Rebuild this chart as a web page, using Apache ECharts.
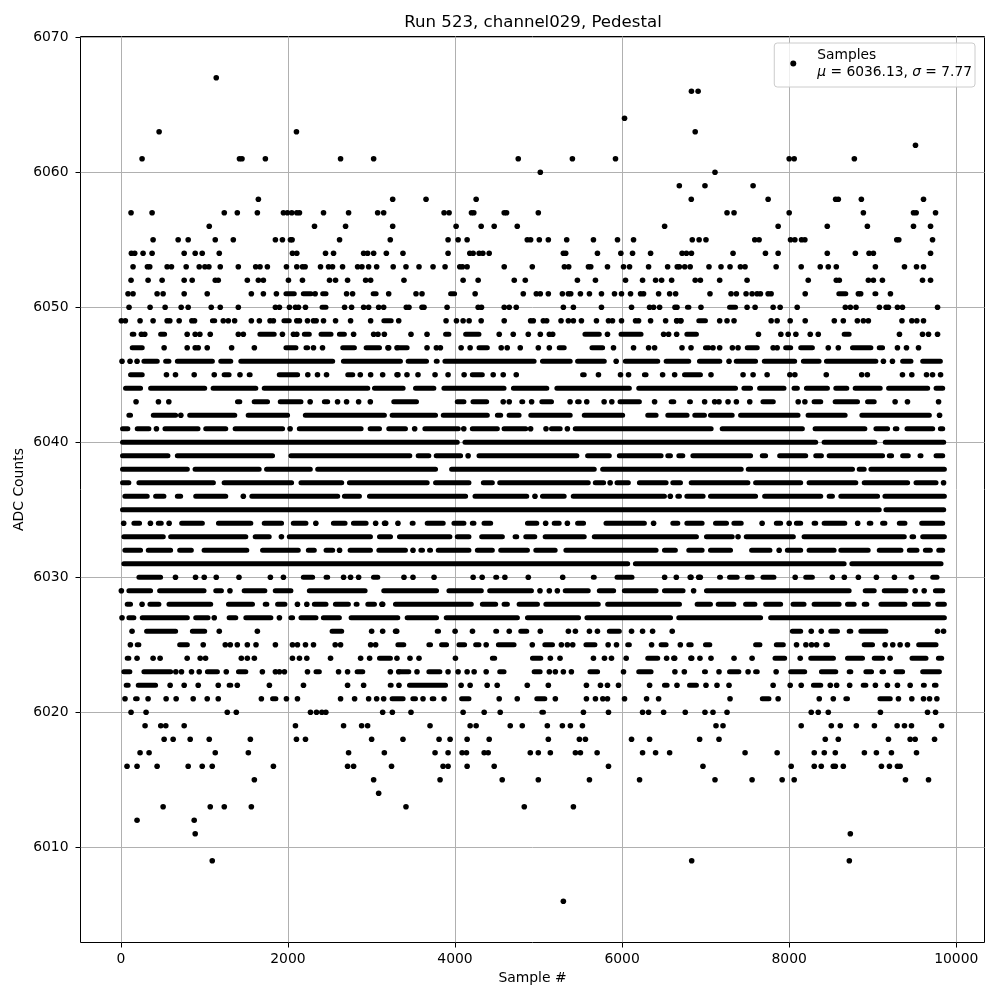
<!DOCTYPE html>
<html><head><meta charset="utf-8">
<style>html,body{margin:0;padding:0;background:#fff}#c{width:1000px;height:1000px}</style>
<script src="https://cdn.jsdelivr.net/npm/echarts@6/dist/echarts.min.js"></script>
</head><body><div id="c"></div>
<script>
// Sample positions, one list per ADC value.
// A number is one visible sample. [a,b] is a stretch where the samples overlap so
// heavily that single ones cannot be told apart: it is drawn as a merged band,
// it does not claim individual sample values.
const titleText = 'Run 523, channel029, Pedestal';
const xLabel = 'Sample #';
const yLabel = 'ADC Counts';
const xTicks = [0,2000,4000,6000,8000,10000];
const yTicks = [6010,6020,6030,6040,6050,6060,6070];
const seriesName = 'Samples';
const meanValue = '6036.13';
const sigmaValue = '7.77';

const y6067=[1142];
const y6066=[6830,6910];
const y6064=[6029];
const y6063=[458,2102,6875];
const y6062=[9512];
const y6061=[254,1420,1450,1730,2630,3026,4757,5405,5921,8000,8060,8780];
const y6060=[5021,7112];
const y6059=[6685,6992,7568];
const y6058=[1646,3254,3653,4253,6828,7748,8556,8588,8864,9608];
const y6057=[122,374,1238,1394,1634,1946,1994,2046,2106,2138,2426,2726,3074,3146,3869,3929,4197,4225,4589,4617,4997,7256,7340,8000,8888,9488,9520,9752];
const y6056=[1058,2318,2690,3254,4013,4313,4469,4745,6509,7868,8456,8936,9488,9692];
const y6055=[386,686,806,1130,1346,1850,1934,2030,2050,2618,3225,3917,4037,4145,4865,4905,5009,5117,5337,5657,5945,6137,6840,6922,7004,7588,7640,8016,8068,8148,8188,9288,9312,9716];
const y6054=[126,166,266,374,758,890,974,1178,2054,2106,2450,2546,2906,2954,3026,3178,3377,3917,4177,4217,4289,4333,4409,5297,5325,5705,5985,6125,6341,6718,6770,6830,7328,7716,7868,8456,8792,8956,9008,9692];
const y6053=[146,318,346,554,606,782,938,1006,1054,1190,1406,1614,1666,1754,1982,2106,2174,2206,2390,2486,2534,2654,2834,2886,2966,3062,3260,3413,3569,3737,3881,4057,4089,4145,4589,4925,5309,5361,5597,5625,5825,6017,6089,6317,6545,6660,6685,6750,6815,7040,7184,7292,7416,7472,7844,8144,8372,8468,8564,9032,9380,9524,9608];
const y6052=[122,326,494,758,854,1130,1166,1514,1646,1706,2006,2174,2498,2570,2714,2930,2990,3389,4097,4277,4709,4841,5465,5681,6041,6245,6401,6473,6593,6875,6937,7168,7496,8228,8564,8600,8948,9008,9116,9596,9692];
const y6051=[86,146,434,506,758,1034,1562,1706,1862,[1946,2106],[2154,2306],2326,[2386,2486],2702,2774,[2990,3086],3206,3533,3605,[3917,4025],[4057,4121],4241,4817,4973,5021,5117,5285,5357,5385,5501,5609,5753,5909,5993,6101,6221,6257,6437,6569,6641,[6713,6777],7052,7304,7368,7484,7556,7616,7656,7748,7784,8192,[8564,8708],8828,8856,[8996,9068],9212];
const y6050=[98,350,530,722,806,1082,1190,1406,1850,1898,2018,2090,2126,2210,[2378,2486],[2546,2594],2678,2762,2906,2966,3086,3146,3417,3449,3605,3629,3905,4277,4317,4589,4649,4733,5297,5417,5753,6113,6329,6377,6449,6633,6657,[6752,6830],6944,[7256,7388],7496,7592,7808,7892,8096,8672,8732,8800,9080,9160,9188,9296,9356,9776];
const y6049=[6,54,230,386,554,586,698,850,882,[1066,1154],1226,1286,1362,1562,1658,1786,1826,[1922,2046],2106,2138,2234,2306,2338,2426,2570,2750,2990,[3118,3266],3326,3893,4017,4097,4169,4313,4589,[4781,4841],4905,4937,5057,5097,5269,5357,5417,5513,5693,5837,5885,5993,6161,6197,6341,6521,6653,6701,6656,6704,[6888,7028],7168,7256,7340,7784,7856,8012,8192,8540,8648,8816,8888,8948,9350,9468,9528,9608];
const y6048=[[106,186],246,286,[446,554],794,890,946,1070,[1274,1326],1406,1466,[1634,1866],1934,2066,2106,[2166,2286],[2366,2546],[2586,2706],2786,3026,3078,3154,3473,3665,[3857,3957],[4097,4317],4529,4697,4877,5021,5129,5169,[5525,5757],5825,[5957,6257],6497,6557,6653,[6745,6920],7632,7900,7988,8080,8252,8348,[8628,8748],9320,9596,9668,9776];
const y6047=[[106,286],518,794,890,926,1034,1326,1598,[1826,1886],[1946,2126],[2186,2266],2306,2414,[2626,2826],[2906,3126],3206,3306,3197,[3297,3457],3665,3777,3825,4073,4181,[4257,4417],4553,4625,4781,4997,5129,[5217,5337],[5609,5797],5897,6137,6317,6389,6717,6825,[6968,7068],7088,7168,7320,7388,[7468,7648],7808,7856,[7928,8048],[8108,8308],8468,8588,[8728,9008],[9048,9148],9296,9404,9548];
const y6046=[14,110,194,[246,466],[506,606],[646,1126],[1166,1346],[1406,2566],[2634,3377],[3409,3689],[3745,3817],[3849,4977],[5017,5409],[5437,5817],5929,[6009,6457],[6497,6828],[6896,7200],7280,[7336,7628],[7672,8096],[8140,8388],[8416,9068],9128,9236,[9328,9488],[9568,9840]];
const y6045=[[86,286],546,654,878,1118,[1206,1326],1426,[1506,1578],[1866,2146],2238,2354,2462,[2686,2806],2866,2990,3134,3306,3317,3425,3557,3761,3917,4109,[4177,4357],4457,4577,4733,[5385,5437],[5497,5577],5717,5981,6077,[6237,6317],6485,6629,[6717,6968],7064,7448,7568,7736,8008,8068,8444,8868,8936,9356,9468,9644,9716,9812];
const y6044=[[26,266],[326,1034],[1074,1646],[1686,2986],[3006,3409],[3497,3777],[3837,4617],[4669,5129],[5189,6117],[6169,7388],[7428,7568],[7616,7968],[8028,8128],[8176,8488],[8528,8720],[8760,9120],[9160,9688],[9728,9868]];
const y6043=[182,450,574,[1366,1454],[1566,1786],[1878,2186],2266,[2406,2506],2594,2702,2846,2986,[3237,3569],[3997,4137],[4185,4409],4577,4649,[4769,4841],4917,[5009,5185],[5237,5305],5377,[5437,5517],5577,5785,5877,[5945,6237],6389,[6557,6649],[6777,6848],6988,7108,7160,7268,7368,7528,[7656,7840],[7988,8048],8108,8188,[8268,8408],[8520,8848],[8908,9048],9268,9416,9788];
const y6042=[[66,146],[206,266],[358,686],718,[794,1394],[1494,2026],[2178,3185],[3217,3797],[3829,4417],[4477,4577],[4617,4797],[4877,5409],[5517,6037],[6097,6157],[6277,6437],[6517,6808],[6840,7016],[7028,7348],[7388,8136],[8196,8700],[8840,9708],9800];
const y6041=[[-10,114],[166,366],426,[498,954],[986,1286],[1338,1966],2026,[2106,2906],[2954,3126],[3186,3286],[3177,3437],3517,[3609,4069],4105,[4177,4537],[4557,4877],4905,5089,[5125,5289],5345,[5409,7096],[7168,8188],[8280,8936],[9008,9208],[9240,9320],[9380,9748],[9780,9868]];
const y6040=[[-10,4057],[4089,8348],[8388,9056],[9120,9880]];
const y6039=[[-10,594],[646,1846],[2006,3489],[3529,3717],[3745,4097],4157,[4257,5489],[5557,5877],[5937,6497],[6517,6609],[6649,6757],[6817,7568],[7648,7748],[7856,8228],[8288,8416],[8448,9148],[9168,9256],[9328,9456],[9536,9608],[9728,9868]];
const y6038=[[-10,826],[858,1686],[1714,2298],[2326,3797],[3929,5697],[5737,7456],[7480,8788],[8808,8928],[8948,9888]];
const y6037=[[-10,126],[186,1138],[1206,2074],[2126,2674],[2706,3697],[3737,4197],[4309,4477],[4505,5625],[5649,5809],5857,[5909,6105],[6177,6557],[6577,6729],[6797,7536],[7568,8168],[8208,8828],[8868,9448],[9488,9788],9848];
const y6036=[[18,346],[386,546],[646,746],[866,1286],[1338,1406],1466,[1538,2626],[2646,2886],[2946,4157],[4209,4889],4957,[5017,5337],[5385,6537],6577,[6637,6717],[6745,7000],[7028,7628],[7676,8408],[8448,8548],[8588,9088],[9116,9888]];
const y6035=[[-10,9108],[9128,9880]];
const y6034=[34,[126,254],354,[418,514],578,[698,1006],[1046,1086],[1138,1586],[1686,1954],[2034,2246],2334,[2406,2474],[2514,2714],[2754,2966],3050,3170,3157,3317,[3457,3529],[3637,3889],[3957,4137],[4177,4257],[4317,4457],[4657,4717],[4837,5009],5085,[5157,5277],5345,[5437,5569],[5777,6297],6377,[6489,6537],[6577,6697],[6745,6988],[7088,7280],[7308,7456],7676,[7816,7928],8000,[8056,8168],[8268,8348],[8388,8696],8820,[8928,9008],[9088,9176],[9288,9416],[9556,9868]];
const y6033=[[6,538],[566,1526],[1578,1806],1922,[1986,3018],[3066,3258],[3305,3969],[3997,4197],[4289,4597],[4689,4769],[4817,4985],[5049,5577],[5637,6920],[6980,7348],7388,[7456,8080],[8148,9408],[9440,9520],[9568,9888]];
const y6032=[[18,266],[298,626],[674,874],[966,1538],[1666,2154],[2214,2346],[2426,2566],2618,[2714,3018],[3058,3437],3497,[3561,3641],[3665,3737],[3769,4197],[4237,4477],[4517,4897],[4937,5229],[5297,6437],[6477,6668],[6768,6988],[7028,7328],[7368,7428],[7520,7800],7880,[7948,8168],[8208,8568],[8588,8976],[9048,9368],[9408,9560],[9600,9720],[9760,9868]];
const y6031=[[6,6097],[6129,8688],[8720,9848]];
const y6030=[[186,506],654,894,998,1142,1414,1790,1946,[2154,2326],[2426,2506],2666,2750,2846,[2994,3106],3389,3497,3749,[3929,3997],4217,4325,[4457,4529],4597,4877,5289,[5625,5697],[5777,5837],[5909,6149],6509,6649,6825,6917,6816,6936,[7136,7208],[7256,7408],[7468,7588],[7656,7848],8072,[8168,8308],8516,8660,8828,9044,9260,[9428,9500],[9688,9800]];
const y6029=[6,[66,386],[434,1026],[1106,1234],1306,[1446,1754],[1818,2066],[2226,2954],[3117,3809],[3897,4345],[4385,4945],5017,5129,5225,[5289,5625],[5697,5929],[5997,6437],[6477,6760],6856,[6980,8748],[8780,8848],[8880,9048],[9108,9428],9508,9616,[9720,9868]];
const y6028=[[46,146],254,[318,486],[546,1106],[1258,1606],[1698,1778],[1846,1994],2114,2226,[2286,2486],[2538,2754],[2786,2858],[2926,3066],3134,3125,[3257,4225],[4297,4517],[4557,4657],[4737,5017],[5057,5745],[5797,6717],[6769,6808],[6868,7088],[7120,7368],[7448,7620],[7688,7928],[8016,8208],[8268,8628],[8668,8808],[8868,8960],[9068,9416],[9468,9696],[9748,9888]];
const y6027=[14,[66,186],[226,826],[866,1074],1118,[1266,1406],[1466,1826],1898,[2006,2086],[2126,2366],[2394,2646],[2726,3345],[3397,3809],[3865,4777],[4837,5509],[5549,6610],[6648,7688],[7748,9888]];
const y6026=[134,[278,686],[826,1034],1178,[1394,1458],1634,[1970,2038],[2498,2674],[2726,2786],3002,3134,3302,3289,[3357,3417],[3529,3577],[3757,3833],4001,4209,[4457,4529],4649,[4757,4889],5021,[5157,5217],5357,5441,5609,5705,[5817,5997],6113,6245,6365,6600,[7280,7328],[7428,7496],[7760,7808],[8008,8168],8264,8384,[8468,8608],[8688,8768],[8828,9188],[9308,9348],9776,9848];
const y6025=[114,[166,246],[294,346],[674,826],986,[1086,1126],1250,1310,1394,1514,1618,1850,2054,2114,2210,2306,2566,2630,[2866,2906],2990,3050,[3286,3417],[3657,3737],[3809,3929],[4017,4145],[4217,4317],4373,[4489,4737],4925,[5045,5197],5273,5345,5409,[5537,5705],5833,5933,[6037,6117],6353,[6437,6557],6697,[6768,6857],[6968,7080],[7568,7680],[7816,7960],8088,8200,8268,8328,[8408,8488],[8708,8768],[8868,9028],9148,9240,9328,9416,[9520,9788]];
const y6024=[[46,126],194,386,470,794,950,1014,[1118,1166],1442,1514,1598,[1946,1986],2054,2138,2226,[2294,2354],2510,[2754,2786],2870,2978,[3066,3257],3305,3461,3569,[3637,3697],[3769,3837],4005,[4097,4145],[4417,4505],[4665,4709],[4897,5057],5141,5257,[5417,5457],[5525,5577],5657,5789,5873,[5945,5993],6049,[6277,6457],6533,6629,6833,6620,6824,6932,7064,[7168,7208],7340,7556,[7628,7668],[7800,7976],8132,[8228,8560],[8668,8908],[8988,9148],9208,[9440,9668],[9756,9856]];
const y6023=[[6,138],[246,626],658,726,846,938,[1006,1186],1262,[1378,1526],1694,1850,1898,1958,2234,[2306,2406],2606,2714,[2798,2926],[3046,3106],3226,3326,[3317,3477],3545,[3657,3849],3917,4037,4145,4229,4373,[4505,4617],[4729,4797],[4917,5049],5129,5201,5297,5393,[5585,5737],6017,[6169,6377],[6629,6665],6745,6632,[6956,7028],7160,[7256,7428],7508,[7568,7648],7844,[7988,8216],[8356,8588],[8688,8768],[8888,9016],[9080,9160],[9248,9388],[9568,9828]];
const y6022=[[34,118],[178,446],590,758,926,1166,[1266,1346],1394,[1478,1546],[1618,1686],1778,2186,2714,2906,[3194,3266],[3197,3257],3329,[3425,3917],4073,4181,4385,4505,4865,5117,[5217,5257],5573,5741,5825,5957,[6169,6217],6329,[6477,6569],6657,[6777,6920],7004,7136,7280,[7568,7616],7808,8012,8144,[8260,8408],8492,8568,8724,[8856,8948],9032,9176,9296,9448,[9576,9648],[9708,9788]];
const y6021=[50,[146,226],326,542,662,866,1034,1166,[1406,1466],1682,[1786,1886],1982,2114,2630,2798,2966,3062,3146,[3217,3409],[3465,3557],3617,[3697,3777],3869,[4049,4197],4529,4745,[4949,5105],5201,[5477,5517],5573,5681,5769,5825,6029,6293,6437,[6701,6749],7292,[7468,7528],[7648,7788],7868,8360,8528,[8648,8728],[9056,9240],9308,9468,9608,9680,9768];
const y6020=[122,302,1274,1382,2270,2342,2406,2454,3134,3250,3473,[3569,3617],4097,4349,4541,[5009,5089],5537,5837,6245,6317,6497,6756,6992,7088,7256,8264,8348,8468,9092,9656,9752];
const y6019=[290,478,538,758,2090,2666,2882,2954,3701,4181,4253,4661,4805,5105,5285,5381,5525,7124,7208,8144,8504,8612,8804,9020,9292,9380,9464,9824];
const y6018=[518,626,830,1058,1550,2102,2210,[2786,2826],3002,3377,[3629,3665],3809,3941,4145,4409,5117,5489,5561,6113,6329,6928,7160,8432,8588,9188,9448,9508,9740];
const y6017=[230,338,1130,1526,2726,3154,3761,3917,4085,4137,4349,4397,4901,4997,5141,5441,5501,5701,6245,6401,6569,7472,7856,8300,8420,8552,8900,9044,9224,9524];
const y6016=[74,194,434,806,974,1094,1826,2714,2786,3240,3857,3917,4145,4469,5837,6968,8024,8300,8384,8528,8552,8648,9104,9200,9296,9328];
const y6015=[1598,3026,3821,4565,4997,5609,6209,7112,7556,7916,8060,9392,9668];
const y6014=[3086];
const y6013=[506,1070,1238,1562,3413,4829,5417];
const y6012=[194,878];
const y6011=[890,8732];
const y6009=[1094,6833,8720];
const y6006=[5297];

const rows = [[6067,y6067],[6066,y6066],[6064,y6064],[6063,y6063],[6062,y6062],[6061,y6061],[6060,y6060],[6059,y6059],[6058,y6058],[6057,y6057],[6056,y6056],[6055,y6055],[6054,y6054],[6053,y6053],[6052,y6052],[6051,y6051],[6050,y6050],[6049,y6049],[6048,y6048],[6047,y6047],[6046,y6046],[6045,y6045],[6044,y6044],[6043,y6043],[6042,y6042],[6041,y6041],[6040,y6040],[6039,y6039],[6038,y6038],[6037,y6037],[6036,y6036],[6035,y6035],[6034,y6034],[6033,y6033],[6032,y6032],[6031,y6031],[6030,y6030],[6029,y6029],[6028,y6028],[6027,y6027],[6026,y6026],[6025,y6025],[6024,y6024],[6023,y6023],[6022,y6022],[6021,y6021],[6020,y6020],[6019,y6019],[6018,y6018],[6017,y6017],[6016,y6016],[6015,y6015],[6014,y6014],[6013,y6013],[6012,y6012],[6011,y6011],[6009,y6009],[6006,y6006]];

// Stretch ends were read at the outer edge of the blob; the round line cap adds that back.
const capInset = 30;
const dots = [], bands = [];
rows.forEach(([v, list]) => list.forEach(e => {
  if (Array.isArray(e)) {
    const mid = (e[0] + e[1]) / 2;
    const a = Math.min(e[0] + capInset, mid - 1), b = Math.max(e[1] - capInset, mid + 1);
    bands.push([a, v], [b, v], [b, null]);
  } else dots.push([e, v]);
}));

const font = '"DejaVu Sans"';
const plain = v => String(v);
const chart = echarts.init(document.getElementById('c'), null, {renderer:'canvas'});
chart.setOption({
  animation:false,
  backgroundColor:'#fff',
  title:{text:titleText,left:528,top:9.5,textAlign:'center',textStyle:{fontFamily:font,fontSize:16.6,fontWeight:'normal',color:'#000'}},
  grid:{left:80.5,right:15.5,top:36.5,bottom:57.5,show:true,borderColor:'#000',borderWidth:1,backgroundColor:'transparent',containLabel:false},
  legend:{
    show:true,data:[{name:seriesName,icon:'circle'}],right:25,top:43,orient:'vertical',
    padding:[5,3,8,16],itemWidth:38,itemHeight:6,
    backgroundColor:'rgba(255,255,255,0.8)',borderColor:'#ccc',borderWidth:1,borderRadius:3,
    formatter:()=>'{n|'+seriesName+'}\n{i|\u03bc}{n| = '+meanValue+', }{i|\u03c3}{n| = '+sigmaValue+'}',
    textStyle:{rich:{n:{fontFamily:font,fontSize:13.8,color:'#000',lineHeight:17},i:{fontFamily:font,fontSize:13.8,fontStyle:'italic',color:'#000',lineHeight:17}}}
  },
  xAxis:{type:'value',min:-483,max:10338,name:xLabel,nameLocation:'middle',nameGap:29,nameMoveOverlap:false,
    nameTextStyle:{fontFamily:font,fontSize:13.9,color:'#000'},
    axisLine:{show:false,onZero:false},
    axisTick:{show:true,length:5,lineStyle:{color:'#000'},customValues:xTicks},
    axisLabel:{color:'#000',fontFamily:font,fontSize:13.9,margin:10,customValues:xTicks,formatter:plain},
    splitLine:{show:true,lineStyle:{color:'#b0b0b0',width:1}}},
  yAxis:{type:'value',min:6002.95,max:6070.05,name:yLabel,nameLocation:'middle',nameGap:54,nameMoveOverlap:false,
    nameTextStyle:{fontFamily:font,fontSize:13.9,color:'#000'},
    axisLine:{show:false,onZero:false},
    axisTick:{show:true,length:5,lineStyle:{color:'#000'},customValues:yTicks},
    axisLabel:{color:'#000',fontFamily:font,fontSize:13.9,margin:12,customValues:yTicks,formatter:plain},
    splitLine:{show:true,lineStyle:{color:'#b0b0b0',width:1}}},
  series:[
    {name:seriesName,type:'scatter',data:dots,symbol:'circle',symbolSize:5.6,itemStyle:{color:'#000',opacity:1},silent:true,large:false,z:3},
    {name:'merged',type:'line',data:bands,showSymbol:false,symbol:'none',connectNulls:false,silent:true,
      lineStyle:{color:'#000',width:5,cap:'round',join:'round',opacity:1},itemStyle:{color:'#000'},z:3}
  ]
});
</script></body></html>
